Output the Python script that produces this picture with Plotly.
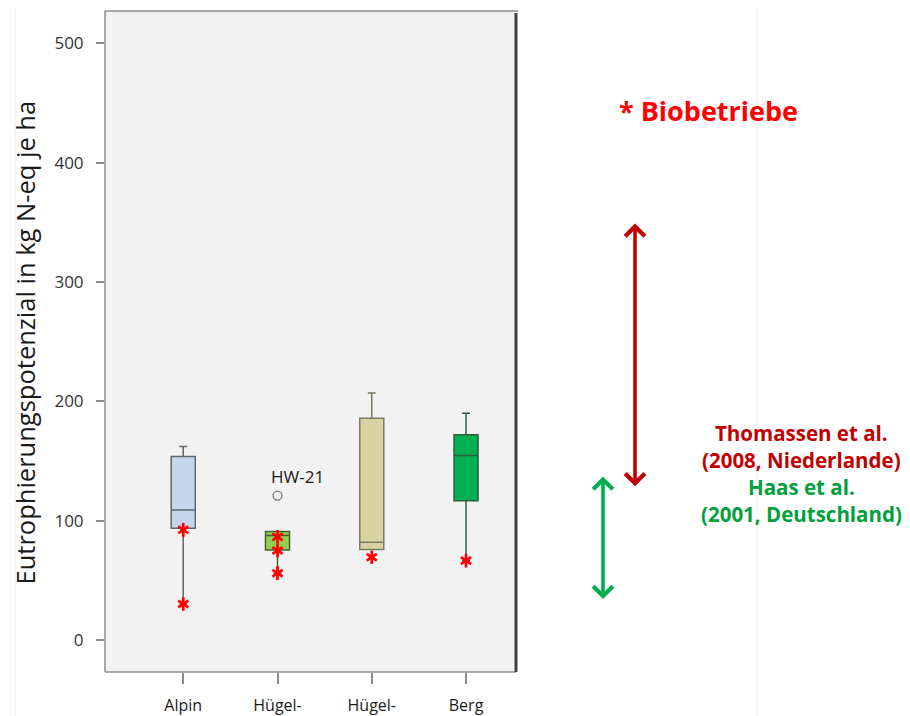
import plotly.graph_objects as go

# ---- data ----
categories = ["Alpin", "Hügel-", "Hügel-", "Berg"]
cat_pos = [0, 1, 2, 3]
q1_vals = [93.7, 75.5, 75.8, 116.6]
median_vals = [109.0, 87.6, 82.0, 154.6]
q3_vals = [153.8, 90.9, 185.7, 172.0]
lower_fence = [30.2, 56.0, 75.8, 66.5]
upper_fence = [162.2, 90.9, 207.0, 189.9]
box_fill = ["#C6D6EC", "#92D050", "#D8D3A0", "#00B050"]
box_line = ["#5F6770", "#4A5E32", "#7C7A62", "#2E5E3E"]

# organic farms (Biobetriebe)
bio_x = [0, 0, 1, 1, 1, 2, 3]
bio_y = [92.3, 30.2, 86.4, 75.0, 56.0, 69.4, 66.5]

# outlier
outlier_x = [1]
outlier_y = [121.0]
outlier_label = ["HW-21"]

# literature ranges
thomassen_range = [127.5, 349.0]
haas_range = [33.0, 137.0]

y_ticks = [0, 100, 200, 300, 400, 500]
y_title = "Eutrophierungspotenzial in kg N-eq je ha"

fig = go.Figure()

for i in range(4):
    fig.add_trace(go.Box(
        x=[cat_pos[i]], q1=[q1_vals[i]], median=[median_vals[i]], q3=[q3_vals[i]],
        lowerfence=[lower_fence[i]], upperfence=[upper_fence[i]],
        width=0.255, whiskerwidth=0.33,
        fillcolor=box_fill[i], line=dict(color=box_line[i], width=1.5),
        boxpoints=False, showlegend=False, hoverinfo="skip",
    ))

fig.add_trace(go.Scatter(
    x=outlier_x, y=outlier_y, mode="markers",
    marker=dict(symbol="circle-open", size=9, color="#7A7A7A", line=dict(width=1.3)),
    showlegend=False, hoverinfo="skip"))

for sym in ["y-up-open", "y-down-open"]:
    fig.add_trace(go.Scatter(
        x=bio_x, y=bio_y, mode="markers",
        marker=dict(symbol=sym, size=8.5, color="#FF0000",
                    line=dict(color="#FF0000", width=2.7)),
        showlegend=False, hoverinfo="skip"))

# The page body has an 8px default margin: work in screen pixels, offset by 8.
OFF = 8
W, H = 910 - OFF, 716 - OFF
L, R, T, B = 105 - OFF, 516 - OFF, 11 - OFF, 672 - OFF
pw = R - L
ph = B - T

def px_x(p):
    return (p - OFF - L) / pw

def px_y(p):
    return (B - (p - OFF)) / ph

fig.add_shape(type="line", xref="paper", yref="paper", x0=0, x1=0, y0=0, y1=1,
              line=dict(color="#8C8C8C", width=1.5))
fig.add_shape(type="line", xref="paper", yref="paper", x0=0, x1=px_x(518), y0=1, y1=1,
              line=dict(color="#8C8C8C", width=1.5))
fig.add_shape(type="line", xref="paper", yref="paper", x0=0, x1=1, y0=0, y1=0,
              line=dict(color="#8C8C8C", width=1.5))
fig.add_shape(type="line", xref="paper", yref="paper", x0=1, x1=1, y0=0, y1=px_y(13),
              line=dict(color="#404040", width=3))

# faint slide guide lines
for gx in [15, 757]:
    fig.add_shape(type="line", xref="paper", yref="paper", x0=px_x(gx), x1=px_x(gx),
                  y0=px_y(8), y1=px_y(716), line=dict(color="#EDEDED", width=1))

annotations = []
annotations.append(dict(
    x=outlier_x[0], y=outlier_y[0], xref="x", yref="y", text=outlier_label[0],
    showarrow=False, xshift=20, yshift=19,
    font=dict(family="Open Sans", size=17, color="#1A1A1A")))

annotations.append(dict(
    x=px_x(24.5), y=px_y(343), xref="paper", yref="paper", xanchor="center",
    yanchor="middle", text=y_title, textangle=-90, showarrow=False,
    font=dict(family="Open Sans", size=25.5, color="#1A1A1A")))

for rng, color, px in [(thomassen_range, "#C00000", 635), (haas_range, "#00B050", 603)]:
    annotations.append(dict(
        x=px_x(px), y=rng[1], xref="paper", yref="y", text="",
        showarrow=True, axref="pixel", ax=0, ayref="y", ay=rng[0],
        arrowside="end+start", arrowhead=4, startarrowhead=4,
        arrowsize=1.05, startarrowsize=1.05, arrowwidth=3.6, arrowcolor=color,
        standoff=0, startstandoff=0))

annotations.append(dict(
    x=px_x(617), y=px_y(110), xref="paper", yref="paper", xanchor="left",
    yanchor="middle", text="<b>* Biobetriebe</b>", showarrow=False,
    font=dict(family="Open Sans", size=27, color="#FF0000")))

lines = [("Thomassen et al.", "#C00000", 433), ("(2008, Niederlande)", "#C00000", 460),
         ("Haas et al.", "#00A03C", 487), ("(2001, Deutschland)", "#00A03C", 514)]
for txt, col, py in lines:
    annotations.append(dict(
        x=px_x(801), y=px_y(py), xref="paper", yref="paper", xanchor="center",
        yanchor="middle", text="<b>" + txt + "</b>", showarrow=False,
        font=dict(family="Open Sans", size=20.5, color=col)))

fig.update_layout(
    width=W, height=H,
    margin=dict(l=L, r=W - R, t=T, b=H - B, pad=0, autoexpand=False),
    paper_bgcolor="white", plot_bgcolor="#F2F2F2",
    annotations=annotations,
    xaxis=dict(
        range=[-0.83, 3.53], tickmode="array", tickvals=cat_pos, ticktext=categories,
        ticks="outside", ticklen=11, tickwidth=1.5, tickcolor="#8C8C8C",
        showgrid=False, zeroline=False, showline=False, automargin=False,
        tickfont=dict(family="Open Sans", size=16, color="#1A1A1A"),
        ticklabelstandoff=8, fixedrange=True),
    yaxis=dict(
        range=[-26.8, 527.0], tickmode="array", tickvals=y_ticks,
        ticks="outside", ticklen=8, tickwidth=1.5, tickcolor="#8C8C8C",
        showgrid=False, zeroline=False, showline=False, automargin=False,
        tickfont=dict(family="Open Sans", size=17, color="#333333"),
        ticklabelstandoff=9, fixedrange=True),
)

fig.write_html("out.html")
